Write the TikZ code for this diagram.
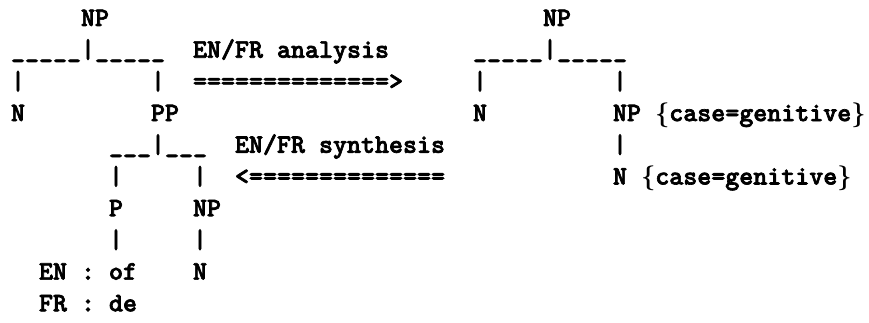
\documentclass[tikz,border=0pt]{standalone}
\usepackage{fontspec}
\newfontfamily\treefont{lmmonolt10-bold.otf}[FakeBold=2.5]
\begin{document}
\begin{tikzpicture}[x=1pt,y=1pt,
  tt/.style={anchor=base west, inner sep=0pt, outer sep=0pt,
    font=\fontsize{26.67}{32}\selectfont\treefont\boldmath}]
% character grid: column c, line l -> (11+14c, 297-31.7l)
\newcommand\gp[2]{({11+14*#1},{297-31.7*#2})}
\useasboundingbox (0,0) rectangle (869,323);

% left tree (English/French structure)
\node[tt] (lnp)   at \gp{5}{0}  {NP};
\node[tt] (lbar)  at \gp{0}{1}  {\_\_\_\_\_|\_\_\_\_\_};
\node[tt] (lv1)   at \gp{0}{2}  {|};
\node[tt] (lv2)   at \gp{10}{2} {|};
\node[tt] (ln)    at \gp{0}{3}  {N};
\node[tt] (lpp)   at \gp{10}{3} {PP};
\node[tt] (ppbar) at \gp{7}{4}  {\_\_\_|\_\_\_};
\node[tt] (pv1)   at \gp{7}{5}  {|};
\node[tt] (pv2)   at \gp{13}{5} {|};
\node[tt] (lp)    at \gp{7}{6}  {P};
\node[tt] (lnp2)  at \gp{13}{6} {NP};
\node[tt] (pv3)   at \gp{7}{7}  {|};
\node[tt] (pv4)   at \gp{13}{7} {|};
\node[tt] (enof)  at \gp{2}{8}  {EN : of};
\node[tt] (ln2)   at \gp{13}{8} {N};
\node[tt] (frde)  at \gp{2}{9}  {FR : de};

% transfer arrows
\node[tt] (ana)   at \gp{13}{1} {EN/FR analysis};
\node[tt] (anar)  at \gp{13}{2} {==============>};
\node[tt] (syn)   at \gp{16}{4} {EN/FR synthesis};
\node[tt] (synr)  at \gp{16}{5} {<==============};

% right tree (interlingual structure)
\node[tt] (rnp)   at \gp{38}{0} {NP};
\node[tt] (rbar)  at \gp{33}{1} {\_\_\_\_\_|\_\_\_\_\_};
\node[tt] (rv1)   at \gp{33}{2} {|};
\node[tt] (rv2)   at \gp{43}{2} {|};
\node[tt] (rn)    at \gp{33}{3} {N};
\node[tt] (rgen)  at \gp{43}{3} {NP $\{$case=genitive$\}$};
\node[tt] (rv3)   at \gp{43}{4} {|};
\node[tt] (rgen2) at \gp{43}{5} {N $\{$case=genitive$\}$};
\end{tikzpicture}
\end{document}
